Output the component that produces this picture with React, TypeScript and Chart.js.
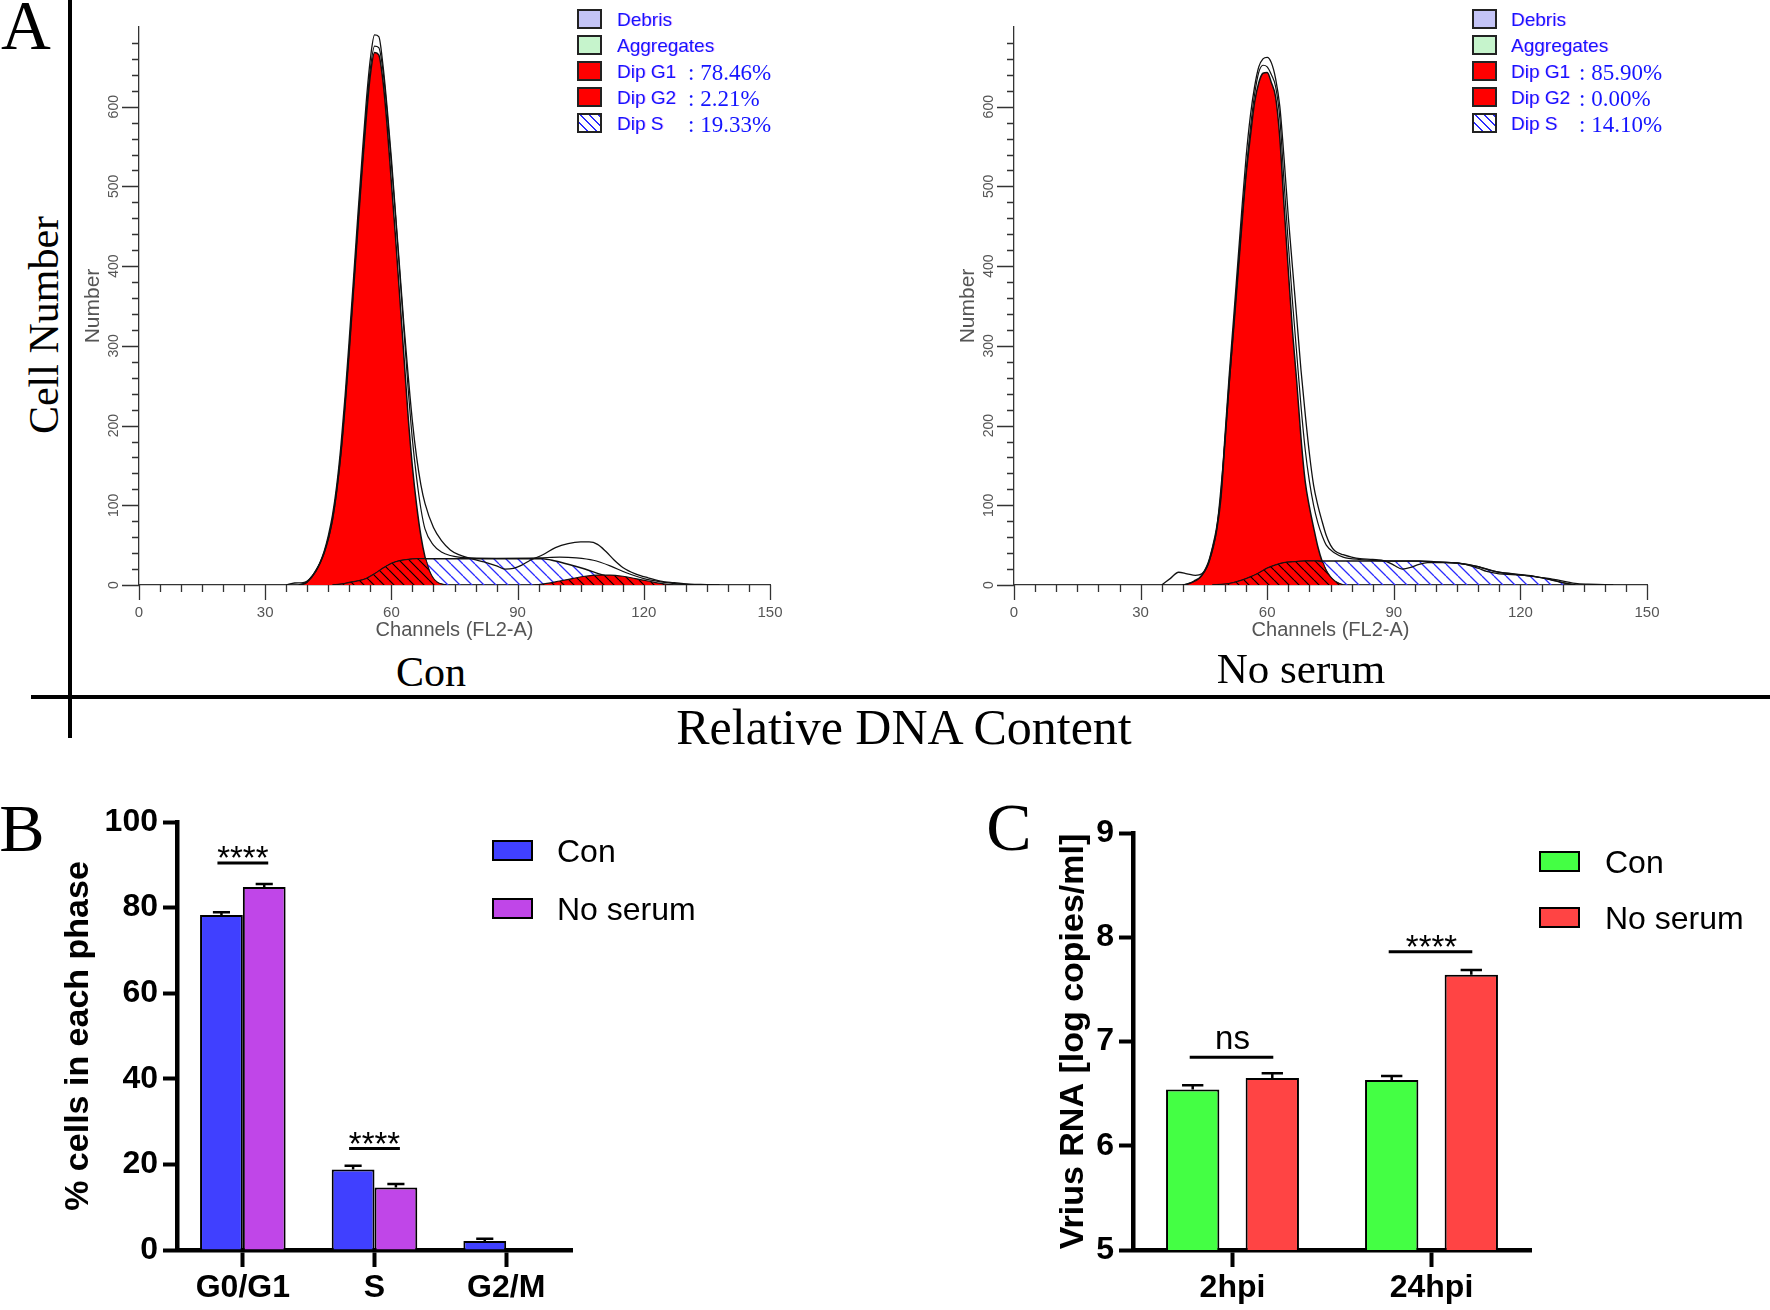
import React, { useEffect, useRef } from 'react';
import { Chart, registerables } from 'chart.js';

Chart.register(...registerables);

const SANS = '"Liberation Sans", Arial, Helvetica, sans-serif';
const SERIF = '"Liberation Serif", "Times New Roman", Times, serif';

// ---------------- Panel A : flow cytometry histograms ----------------
const HIST_X_LABELS = [0, 30, 60, 90, 120, 150];
const HIST_Y_LABELS = [0, 100, 200, 300, 400, 500, 600];
const HIST_X_MINOR = 5;
const HIST_Y_MINOR = 20;

// Con
const CON_G1_CH = [38, 39, 40, 41, 42, 43, 44, 45, 46, 47, 48, 49, 50, 51, 52, 53, 54, 55, 56, 57, 58, 59, 60, 61, 62, 63, 64, 65, 66, 67, 68, 69, 70, 71, 72, 73];
const CON_G1 = [0, 1, 4, 10, 17, 27, 40, 58, 82, 118, 165, 225, 295, 370, 445, 518, 585, 640, 668, 665, 632, 575, 505, 435, 360, 285, 210, 148, 100, 62, 35, 18, 8, 3, 1, 0];
const CON_S_CH = [46, 48, 50, 52, 54, 56, 58, 60, 62, 64, 66, 70, 80, 90, 96, 99, 102, 106, 110, 114, 118, 122, 126];
const CON_S = [0, 1, 3, 5, 8, 14, 21, 27, 30.5, 32, 33, 33, 33, 33, 33, 30, 26, 20, 13, 7, 3.5, 1.2, 0];
const CON_S_IN_G1_CH = [46, 48, 50, 52, 54, 56, 58, 60, 62, 64, 66, 67, 68, 69, 70, 71, 72, 73];
const CON_S_IN_G1 = [0, 1, 3, 5, 8, 14, 21, 27, 30.5, 32, 33, 33, 33, 18, 8, 3, 1, 0];
const CON_G2_CH = [94, 97, 100, 103, 106, 109, 112, 115, 118, 121, 124, 127];
const CON_G2 = [0, 2, 5, 8, 11, 12.5, 12.5, 11, 8, 5, 2, 0];
const CON_RAW_CH = [35, 37, 39, 40, 41, 42, 43, 44, 45, 46, 47, 48, 49, 50, 51, 52, 53, 54, 55, 56, 57, 58, 59, 60, 61, 62, 63, 64, 65, 66, 67, 68, 70, 72, 74, 76, 79, 82, 85, 87, 89, 91, 93, 96, 99, 102, 105, 107, 109, 111, 113, 115, 118, 121, 124, 127, 131, 135, 138];
const CON_RAW = [0, 2.5, 3, 5, 10, 18, 28, 42, 62, 88, 125, 175, 238, 310, 385, 462, 535, 605, 660, 690, 688, 652, 598, 535, 465, 395, 325, 262, 205, 160, 126, 102, 72, 55, 44, 38, 33, 29, 24, 20, 21, 25, 31, 38, 47, 52, 54, 54, 51, 42, 31, 22, 14, 9, 5, 3, 1, 0.5, 0];
const CON_FIT_CH = [38, 40, 42, 44, 46, 48, 50, 52, 54, 55, 56, 57, 58, 59, 60, 61, 62, 63, 64, 65, 66, 67, 68, 70, 72, 74, 76, 79, 85, 95, 100, 104, 108, 112, 116, 120, 124, 128, 132];
const CON_FIT = [0, 4, 17, 40, 82, 166, 298, 450, 593, 648, 676, 674, 645, 592, 528, 462, 390, 318, 245, 182, 134, 96, 70, 50, 41, 37, 35, 34, 33.5, 34, 35, 34, 31, 24, 15, 8, 4, 1.5, 0];

// No serum
const NS_G1_CH = [40, 41, 42, 43, 44, 45, 46, 47, 48, 49, 50, 51, 52, 53, 54, 55, 56, 57, 58, 59, 60, 61, 62, 63, 64, 65, 66, 67, 68, 69, 70, 71, 72, 73, 74, 75, 76, 77, 78];
const NS_G1 = [0, 1, 3, 6, 9, 16, 26, 45, 68, 107, 180, 255, 318, 385, 452, 515, 562, 605, 630, 642, 643, 630, 612, 560, 475, 395, 318, 255, 185, 130, 98, 72, 48, 30, 18, 10, 5, 2, 0];
const NS_S_CH = [47, 50, 52, 54, 56, 58, 60, 62, 64, 66, 69, 75, 85, 92, 96, 100, 105, 110, 114, 118, 123, 127, 130, 133];
const NS_S = [0, 1, 3, 6, 10, 15, 21, 25, 28, 29, 30, 30, 30, 30, 30, 29, 27.5, 23, 17, 14, 11, 7, 3, 0];
const NS_S_IN_G1_CH = [47, 50, 52, 54, 56, 58, 60, 62, 64, 66, 69, 71, 73, 74, 75, 76, 77, 78];
const NS_S_IN_G1 = [0, 1, 3, 6, 10, 15, 21, 25, 28, 29, 30, 30, 29, 18, 10, 5, 2, 0];
const NS_G2_CH: number[] = [];
const NS_G2: number[] = [];
const NS_RAW_CH = [35, 37, 39, 41, 43, 44.5, 46, 47, 48, 49, 50, 51, 52, 53, 54, 55, 56, 57, 58, 59, 60, 61, 62, 63, 64, 65, 66, 67, 68, 69, 70, 71, 72, 73, 74, 75, 76, 78, 80, 82, 85, 88, 90, 92, 94, 96, 98, 101, 104, 107, 110, 112, 115, 118, 121, 124, 127, 129, 131, 133, 136, 140, 142];
const NS_RAW = [0, 8, 16, 14, 12, 14, 28, 47, 72, 112, 188, 264, 332, 402, 472, 537, 588, 625, 650, 660, 662, 655, 635, 600, 535, 462, 398, 335, 270, 215, 165, 125, 100, 80, 62, 50, 43, 38, 35, 33, 32, 30, 25, 20, 22, 26, 28, 28, 28, 26, 21, 17, 14, 13, 12, 10, 8, 6, 4, 2, 1, 0.5, 0];
const NS_FIT_CH = [40, 42, 44, 46, 48, 50, 52, 54, 56, 57, 58, 59, 60, 61, 62, 63, 64, 65, 66, 67, 68, 69, 70, 71, 72, 73, 74, 76, 78, 82, 90, 96, 100, 105, 110, 114, 118, 123, 127, 130, 133];
const NS_FIT = [0, 3, 9, 26, 69, 181, 321, 458, 572, 615, 643, 652, 650, 640, 625, 585, 505, 428, 355, 290, 225, 170, 130, 100, 78, 62, 50, 40, 35, 32, 30, 30, 29, 27.5, 23, 17, 14, 11, 7, 3, 0];

const HIST_LEGEND_NAMES = ['Debris', 'Aggregates', 'Dip G1', 'Dip G2', 'Dip S'];
const CON_LEGEND_VALUES = ['', '', ': 78.46%', ': 2.21%', ': 19.33%'];
const NS_LEGEND_VALUES = ['', '', ': 85.90%', ': 0.00%', ': 14.10%'];

// ---------------- Panel B ----------------
const B_CATEGORIES = ['G0/G1', 'S', 'G2/M'];
const B_SERIES = ['Con', 'No serum'];
const B_CON = [78.3, 18.8, 2.1];
const B_NOSERUM = [84.8, 14.6, 0];
const B_CON_ERR = [0.6, 0.9, 0.5];
const B_NOSERUM_ERR = [0.7, 0.8, 0];
const B_SIG = [
  { group: 0, y: 90.4, text: '****' },
  { group: 1, y: 23.7, text: '****' },
];

// ---------------- Panel C ----------------
const C_CATEGORIES = ['2hpi', '24hpi'];
const C_SERIES = ['Con', 'No serum'];
const C_CON = [6.54, 6.63];
const C_NOSERUM = [6.65, 7.64];
const C_CON_ERR = [0.04, 0.04];
const C_NOSERUM_ERR = [0.045, 0.045];
const C_SIG = [
  { group: 0, y: 6.85, text: 'ns' },
  { group: 1, y: 7.86, text: '****' },
];

// ---------------- helpers ----------------
const pts = (xs: number[], ys: number[]) => xs.map((x, i) => ({ x, y: ys[i] }));

function makeHatch(bg: string | null, line: string, spacing: number, width: number) {
  const c = document.createElement('canvas');
  c.width = spacing;
  c.height = spacing;
  const g = c.getContext('2d')!;
  if (bg) {
    g.fillStyle = bg;
    g.fillRect(0, 0, spacing, spacing);
  }
  g.strokeStyle = line;
  g.lineWidth = width;
  g.beginPath();
  for (const o of [-spacing, 0, spacing]) {
    g.moveTo(o, 0);
    g.lineTo(o + spacing, spacing);
  }
  g.stroke();
  return g.createPattern(c, 'repeat')!;
}

const histAxesPlugin = {
  id: 'histAxes',
  afterDraw(chart: any) {
    const { ctx } = chart;
    const xs = chart.scales.x;
    const ys = chart.scales.y;
    const x0 = xs.getPixelForValue(0);
    const y0 = ys.getPixelForValue(0);
    ctx.save();
    ctx.strokeStyle = '#333';
    ctx.lineWidth = 1.3;
    ctx.beginPath();
    for (let v = 0; v <= 150; v += HIST_X_MINOR) {
      const px = Math.round(xs.getPixelForValue(v)) + 0.5;
      const len = HIST_X_LABELS.includes(v) ? 15 : 7;
      ctx.moveTo(px, y0);
      ctx.lineTo(px, y0 + len);
    }
    for (let v = 0; v < ys.max; v += HIST_Y_MINOR) {
      const py = Math.round(ys.getPixelForValue(v)) + 0.5;
      const len = HIST_Y_LABELS.includes(v) ? 17 : 7;
      ctx.moveTo(x0, py);
      ctx.lineTo(x0 - len, py);
    }
    ctx.stroke();
    ctx.fillStyle = '#555';
    ctx.font = `14px ${SANS}`;
    ctx.textAlign = 'center';
    ctx.textBaseline = 'middle';
    for (const v of HIST_Y_LABELS) {
      const py = ys.getPixelForValue(v);
      ctx.save();
      ctx.translate(x0 - 25, py);
      ctx.rotate(-Math.PI / 2);
      ctx.fillText(String(v), 0, 0);
      ctx.restore();
    }
    ctx.restore();
  },
};

function histConfig(d: {
  g1: [number[], number[]];
  s: [number[], number[]];
  sInG1: [number[], number[]];
  g2: [number[], number[]];
  raw: [number[], number[]];
  fit: [number[], number[]];
}) {
  const redHatch = makeHatch('#ff0000', '#000', 10, 1.2);
  const blueHatch = makeHatch(null, '#2b2bff', 12, 1.3);
  const common = { pointRadius: 0, tension: 0.4, cubicInterpolationMode: 'monotone' as const };
  return {
    type: 'line' as const,
    data: {
      datasets: [
        { ...common, label: 'raw', data: pts(...d.raw), borderColor: '#111', borderWidth: 1.3, fill: false },
        { ...common, label: 'fit', data: pts(...d.fit), borderColor: '#111', borderWidth: 1.2, fill: false },
        { ...common, label: 'Dip G2', data: pts(...d.g2), borderColor: '#111', borderWidth: 1.2, backgroundColor: redHatch, fill: 'origin' },
        { ...common, label: 'S in G1', data: pts(...d.sInG1), borderColor: '#111', borderWidth: 1, backgroundColor: redHatch, fill: 'origin' },
        { ...common, label: 'Dip S', data: pts(...d.s), borderColor: '#111', borderWidth: 1.5, backgroundColor: blueHatch, fill: 'origin' },
        { ...common, label: 'Dip G1', data: pts(...d.g1), borderColor: '#111', borderWidth: 1.5, backgroundColor: '#ff0000', fill: 'origin' },
      ],
    },
    options: {
      responsive: false,
      animation: false as const,
      events: [],
      layout: { padding: { left: 0, top: 27, right: 40, bottom: 0 } },
      plugins: { legend: { display: false }, tooltip: { enabled: false } },
      scales: {
        x: {
          type: 'linear' as const,
          min: 0,
          max: 150,
          ticks: { stepSize: 30, color: '#555', font: { family: SANS, size: 15 }, padding: 19 },
          grid: { display: false, drawTicks: false },
          border: { display: true, color: '#333', width: 1.3 },
          title: { display: true, text: 'Channels (FL2-A)', color: '#555', font: { family: SANS, size: 20, lineHeight: 1 }, padding: { top: 0, bottom: 5 } },
          afterFit: (s: any) => { s.height = 60; },
        },
        y: {
          type: 'linear' as const,
          min: 0,
          max: 700,
          ticks: { display: false, stepSize: 100 },
          grid: { display: false, drawTicks: false },
          border: { display: true, color: '#333', width: 1.3 },
          title: { display: true, text: 'Number', color: '#555', font: { family: SANS, size: 21, lineHeight: 1 }, padding: { top: 3.5, bottom: 0 } },
          afterFit: (s: any) => { s.width = 60; },
        },
      },
    },
    plugins: [histAxesPlugin],
  };
}

const barExtrasPlugin = {
  id: 'barExtras',
  afterDatasetsDraw(chart: any) {
    const o = chart.options.plugins.barExtras;
    if (!o) return;
    const { ctx } = chart;
    const ys = chart.scales.y;
    ctx.save();
    ctx.strokeStyle = '#000';
    ctx.lineWidth = 2.5;
    o.errors.forEach((errs: number[], di: number) => {
      const meta = chart.getDatasetMeta(di);
      meta.data.forEach((bar: any, i: number) => {
        const e = errs[i];
        if (!e) return;
        const v = chart.data.datasets[di].data[i];
        const yTop = ys.getPixelForValue(v + e);
        const half = bar.width * 0.2;
        ctx.beginPath();
        ctx.moveTo(bar.x, bar.y);
        ctx.lineTo(bar.x, yTop);
        ctx.moveTo(bar.x - half, yTop);
        ctx.lineTo(bar.x + half, yTop);
        ctx.stroke();
      });
    });
    ctx.lineWidth = 3;
    ctx.fillStyle = '#000';
    ctx.textAlign = 'center';
    ctx.textBaseline = 'alphabetic';
    ctx.font = `33px ${SANS}`;
    o.sig.forEach((s: any) => {
      const a = chart.getDatasetMeta(0).data[s.group];
      const b = chart.getDatasetMeta(1).data[s.group];
      const py = ys.getPixelForValue(s.y);
      ctx.beginPath();
      ctx.moveTo(a.x - o.sigPad[0], py);
      ctx.lineTo(b.x + o.sigPad[1], py);
      ctx.stroke();
      const dy = s.text === 'ns' ? -8 : 6;
      ctx.fillText(s.text, (a.x + b.x) / 2, py + dy);
    });
    ctx.restore();
  },
};

function barConfig(p: {
  labels: string[];
  series: string[];
  values: number[][];
  errors: number[][];
  colors: string[];
  sig: { group: number; y: number; text: string }[];
  yMin: number;
  yMax: number;
  yStep: number;
  yTitle: string;
  yWidth: number;
  titlePad: number;
  padTop: number;
  catPct: number;
  barPct: number;
  sigPad: number[];
}) {
  const tickFont = { family: SANS, size: 32, weight: 'bold' as const };
  return {
    type: 'bar' as const,
    data: {
      labels: p.labels,
      datasets: p.series.map((name, i) => ({
        label: name,
        data: p.values[i],
        backgroundColor: p.colors[i],
        borderColor: '#000',
        borderWidth: 2,
        categoryPercentage: p.catPct,
        barPercentage: p.barPct,
      })),
    },
    options: {
      responsive: false,
      animation: false as const,
      events: [],
      layout: { padding: { left: 0, top: p.padTop, right: 10, bottom: 0 } },
      plugins: {
        legend: { display: false },
        tooltip: { enabled: false },
        barExtras: { errors: p.errors, sig: p.sig, sigPad: p.sigPad },
      },
      scales: {
        x: {
          offset: true,
          ticks: { color: '#000', font: tickFont, padding: 2 },
          grid: { offset: false, drawOnChartArea: false, drawTicks: true, tickLength: 17, tickWidth: 4, tickColor: '#000', color: '#000' },
          border: { display: true, color: '#000', width: 4.5 },
          afterFit: (s: any) => { s.height = 58; },
        },
        y: {
          min: p.yMin,
          max: p.yMax,
          ticks: { stepSize: p.yStep, color: '#000', font: tickFont, padding: 5 },
          grid: { drawOnChartArea: false, drawTicks: true, tickLength: 14, tickWidth: 4, tickColor: '#000', color: '#000' },
          border: { display: true, color: '#000', width: 4.5 },
          title: { display: true, text: p.yTitle, color: '#000', font: { family: SANS, size: 34, weight: 'bold' as const, lineHeight: 1 }, padding: { top: p.titlePad, bottom: 0 } },
          afterFit: (s: any) => { s.width = p.yWidth; },
        },
      },
    },
    plugins: [barExtrasPlugin],
  };
}

function ChartCanvas({ left, top, width, height, build }: { left: number; top: number; width: number; height: number; build: () => any }) {
  const ref = useRef<HTMLCanvasElement>(null);
  useEffect(() => {
    const chart = new Chart(ref.current!, build());
    return () => chart.destroy();
  }, []);
  return <canvas ref={ref} width={width} height={height} style={{ position: 'absolute', left, top, width, height }} />;
}

function T({ x, y, children, size, family = SANS, weight = 400, color = '#000', rotate = 0, align = 'center', shadow }: any) {
  const tx = align === 'center' ? '-50%' : '0';
  return (
    <div
      style={{
        position: 'absolute',
        left: x,
        top: y,
        transform: `translate(${tx}, -50%)${rotate ? ` rotate(${rotate}deg)` : ''}`,
        fontSize: size,
        fontFamily: family,
        fontWeight: weight,
        color,
        lineHeight: 1,
        whiteSpace: 'nowrap',
        textShadow: shadow,
      }}
    >
      {children}
    </div>
  );
}

const LEGEND_FILLS = ['#c4c4f6', '#c6f4cc', '#ff0000', '#ff0000', 'repeating-linear-gradient(45deg, #fff 0 5px, #2b2bff 5px 6.5px)'];

function HistLegend({ bx, tx, vx, values }: { bx: number; tx: number; vx: number; values: string[] }) {
  return (
    <>
      {HIST_LEGEND_NAMES.map((name, i) => {
        const cy = 19 + 26 * i;
        return (
          <React.Fragment key={name}>
            <div style={{ position: 'absolute', left: bx, top: cy - 10, width: 25, height: 20, boxSizing: 'border-box', border: '2px solid #222', background: LEGEND_FILLS[i] }} />
            <T x={tx} y={cy} size={19} color="#1515ff" align="left" shadow="1px 0 0 rgba(230,90,255,0.45)">{name}</T>
            {values[i] ? <T x={vx} y={cy + 1} size={23} family={SERIF} color="#1515ff" align="left">{values[i]}</T> : null}
          </React.Fragment>
        );
      })}
    </>
  );
}

function BarLegend({ bx, tx, tops, names, colors }: { bx: number; tx: number; tops: number[]; names: string[]; colors: string[] }) {
  return (
    <>
      {names.map((n, i) => (
        <React.Fragment key={n}>
          <div style={{ position: 'absolute', left: bx, top: tops[i], width: 41, height: 21, boxSizing: 'border-box', border: '2.5px solid #000', background: colors[i] }} />
          <T x={tx} y={tops[i] + 11} size={32} align="left">{n}</T>
        </React.Fragment>
      ))}
    </>
  );
}

const B_COLORS = ['#4040ff', '#c046e8'];
const C_COLORS = ['#44ff44', '#ff4444'];

export default function App() {
  return (
    <div style={{ position: 'absolute', left: 0, top: 0, width: 1770, height: 1310, background: '#fff', overflow: 'hidden' }}>
      <ChartCanvas
        left={79}
        top={0}
        width={731}
        height={645}
        build={() => histConfig({
          g1: [CON_G1_CH, CON_G1], s: [CON_S_CH, CON_S], sInG1: [CON_S_IN_G1_CH, CON_S_IN_G1],
          g2: [CON_G2_CH, CON_G2], raw: [CON_RAW_CH, CON_RAW], fit: [CON_FIT_CH, CON_FIT],
        })}
      />
      <ChartCanvas
        left={954}
        top={0}
        width={733}
        height={645}
        build={() => histConfig({
          g1: [NS_G1_CH, NS_G1], s: [NS_S_CH, NS_S], sInG1: [NS_S_IN_G1_CH, NS_S_IN_G1],
          g2: [NS_G2_CH, NS_G2], raw: [NS_RAW_CH, NS_RAW], fit: [NS_FIT_CH, NS_FIT],
        })}
      />
      <HistLegend bx={577} tx={617} vx={688} values={CON_LEGEND_VALUES} />
      <HistLegend bx={1472} tx={1511} vx={1579} values={NS_LEGEND_VALUES} />

      <ChartCanvas
        left={57}
        top={790}
        width={525}
        height={518}
        build={() => barConfig({
          labels: B_CATEGORIES, series: B_SERIES, values: [B_CON, B_NOSERUM], errors: [B_CON_ERR, B_NOSERUM_ERR],
          colors: B_COLORS, sig: B_SIG, yMin: 0, yMax: 100, yStep: 20, yTitle: '% cells in each phase',
          yWidth: 120, titlePad: 5, padTop: 32, catPct: 0.65, barPct: 1, sigPad: [4, 4],
        })}
      />
      <ChartCanvas
        left={1043}
        top={790}
        width={498}
        height={518}
        build={() => barConfig({
          labels: C_CATEGORIES, series: C_SERIES, values: [C_CON, C_NOSERUM], errors: [C_CON_ERR, C_NOSERUM_ERR],
          colors: C_COLORS, sig: C_SIG, yMin: 5, yMax: 9, yStep: 1, yTitle: 'Vrius RNA [log copies/ml]',
          yWidth: 90, titlePad: 14, padTop: 43, catPct: 0.8, barPct: 0.67, sigPad: [3, 1],
        })}
      />
      <BarLegend bx={492} tx={557} tops={[840, 898]} names={B_SERIES} colors={B_COLORS} />
      <BarLegend bx={1539} tx={1605} tops={[851, 907]} names={C_SERIES} colors={C_COLORS} />

      {/* frame lines of panel A */}
      <div style={{ position: 'absolute', left: 68, top: 0, width: 4, height: 738, background: '#000' }} />
      <div style={{ position: 'absolute', left: 31, top: 695, width: 1739, height: 4, background: '#000' }} />

      <T x={26} y={26} size={69} family={SERIF}>A</T>
      <T x={44} y={325} size={42} family={SERIF} rotate={-90}>Cell Number</T>
      <T x={431} y={672} size={42} family={SERIF}>Con</T>
      <T x={1301} y={668} size={43} family={SERIF}>No serum</T>
      <T x={904} y={727} size={50} family={SERIF}>Relative DNA Content</T>
      <T x={22} y={828} size={68} family={SERIF}>B</T>
      <T x={1009} y={827} size={68} family={SERIF}>C</T>
    </div>
  );
}
